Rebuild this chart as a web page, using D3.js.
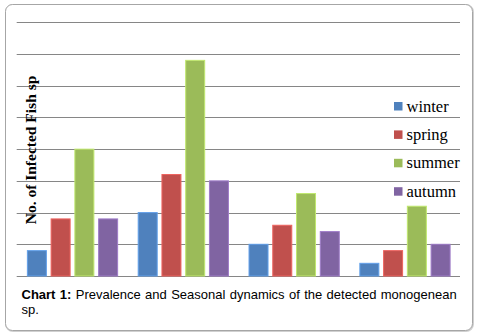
<!DOCTYPE html>
<html><head><meta charset="utf-8">
<script src="https://cdn.jsdelivr.net/npm/d3@7"></script>
<style>html,body{margin:0;padding:0;background:#fff;}svg{display:block;}</style>
</head><body>
<svg id="c" width="477" height="334"></svg>
<script>
const groups = ["G1","G2","G3","G4"];
const seasons = ["winter","spring","summer","autumn"];
const colors = ["#4F81BD","#C0504D","#9BBB59","#8064A2"];
const winter = [0.8, 2.0, 1.0, 0.4];
const spring = [1.8, 3.2, 1.6, 0.8];
const summer = [4.0, 6.8, 2.6, 2.2];
const autumn = [1.8, 3.0, 1.4, 1.0];
const yTicks = [0,1,2,3,4,5,6,7,8];
const yLabel = "No. of Infected Fish sp";
const captionBold = "Chart 1:";
const captionLine1 = " Prevalence and Seasonal dynamics of the detected monogenean";
const captionLine2 = "sp.";

(function(){
const series = [winter, spring, summer, autumn];
const svg = d3.select("#c");

svg.append("rect").attr("x",6).attr("y",5).attr("width",467).attr("height",326)
  .attr("rx",7).attr("fill","none").attr("stroke","#d0d0d0").attr("stroke-width",2);
svg.append("rect").attr("x",5.5).attr("y",4.5).attr("width",467).attr("height",326)
  .attr("rx",7).attr("fill","#fff").attr("stroke","#a6a6a6").attr("stroke-width",1);

const pL = 16.7, pR = 460, pT = 22.3, pB = 276;
const y = d3.scaleLinear().domain([0,8]).range([pB, pT]);
const x0 = d3.scaleBand().domain(groups).range([pL, pR]).paddingInner(0).paddingOuter(0);
const x1 = d3.scaleBand().domain(seasons).range([8.3, 8.3+95]).paddingInner(0.2).paddingOuter(0.1);

svg.append("g").selectAll("line").data(yTicks).join("line")
  .attr("x1",pL).attr("x2",pR)
  .attr("y1",d=>Math.round(y(d))+0.5).attr("y2",d=>Math.round(y(d))+0.5)
  .attr("stroke","#868686").attr("stroke-width",1);

const g = svg.append("g");
groups.forEach((grp,gi)=>{
  seasons.forEach((s,si)=>{
    const v = series[si][gi];
    g.append("rect")
      .attr("x", x0(grp)+x1(s))
      .attr("y", y(v))
      .attr("width", x1.bandwidth())
      .attr("height", y(0)-y(v))
      .attr("fill", colors[si])
      .attr("stroke", d3.color(colors[si]).brighter(0.6))
      .attr("stroke-width", 1);
  });
});

svg.append("text")
  .attr("transform","translate(36,150) rotate(-90)")
  .attr("text-anchor","middle")
  .attr("font-family","'Liberation Serif','Times New Roman',serif")
  .attr("font-weight","bold").attr("font-size",15.5).attr("fill","#000")
  .text(yLabel);

const lg = svg.append("g");
seasons.forEach((s,i)=>{
  const yy = 111.5 + i*28.4;
  lg.append("rect").attr("x",394).attr("y",yy-9.5).attr("width",8.5).attr("height",8.5).attr("fill",colors[i]);
  lg.append("text").attr("x",406.5).attr("y",yy)
    .attr("font-family","'Liberation Serif','Times New Roman',serif")
    .attr("font-size",16.5).attr("fill","#000").text(s);
});

const cap = svg.append("text").attr("x",21.5).attr("y",298.5)
  .attr("font-family","'Liberation Sans',Arial,sans-serif").attr("font-size",13).attr("fill","#000");
cap.append("tspan").attr("font-weight","bold").text(captionBold);
cap.append("tspan").text(captionLine1);
const w = cap.node().getComputedTextLength();
const spaces = (captionBold + captionLine1).split(" ").length - 1;
const extra = (456.7 - 21.5 - w) / spaces;
if (extra > 0) cap.attr("word-spacing", extra);
svg.append("text").attr("x",21.5).attr("y",313.5)
  .attr("font-family","'Liberation Sans',Arial,sans-serif").attr("font-size",13).attr("fill","#000")
  .text(captionLine2);
})();
</script>
</body></html>
